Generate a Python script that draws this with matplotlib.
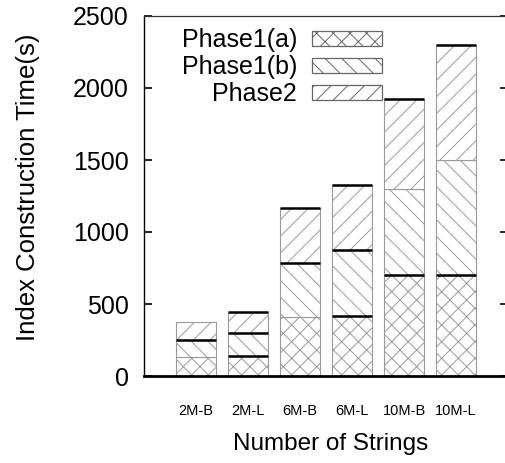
import numpy as np
import matplotlib
matplotlib.use("Agg")
import matplotlib.pyplot as plt
from matplotlib.patches import Patch

# index build time per dataset, split by phase (seconds)
datasets = ["2M-B", "2M-L", "6M-B", "6M-L", "10M-B", "10M-L"]
phase1a = [135, 140, 412, 420, 698, 698]
phase1b = [115, 157, 370, 452, 602, 799]
phase2 = [126, 145, 386, 453, 627, 803]
series_names = ["Phase1(a)", "Phase1(b)", "Phase2"]
yticks = [0, 500, 1000, 1500, 2000, 2500]

# which segment tops get a heavy black rule
bold_tops = [
    [False, True, False, True, True, True],
    [True, True, True, True, False, False],
    [False, True, True, True, True, True],
]

plt.rcParams["font.family"] = ["Liberation Sans", "DejaVu Sans"]
plt.rcParams["hatch.linewidth"] = 0.7

fig = plt.figure(figsize=(5.05, 4.63), dpi=100)
W, H = 505, 463
ax = fig.add_axes([144 / W, (H - 376) / H, (508 - 144) / W, (376 - 16) / H])

x = np.arange(len(datasets))
width = 0.77
hatches = ["xx", "\\\\", "//"]
edge = "#9a9a9a"

bottom = np.zeros(len(datasets))
for vals, hatch, bolds in zip([phase1a, phase1b, phase2], hatches, bold_tops):
    vals = np.array(vals, dtype=float)
    ax.bar(x, vals, width, bottom=bottom, color="white", edgecolor=edge,
           hatch=hatch, linewidth=0.8, zorder=2)
    tops = bottom + vals
    for xi, top, b in zip(x, tops, bolds):
        if b:
            ax.hlines(top, xi - width / 2, xi + width / 2, color="black",
                      linewidth=1.8, zorder=3)
    bottom = tops

ax.set_xlim(-1, len(datasets))
ax.set_ylim(0, 2500)
ax.set_yticks(yticks)
ax.set_xticks(x)
ax.set_xticklabels(datasets, fontsize=10.5)
ax.tick_params(axis="x", length=0, pad=20)
ax.tick_params(axis="y", direction="in", length=6, width=1.2, pad=11,
               labelsize=18, right=True)

ax.spines["left"].set_linewidth(1.0)
ax.spines["top"].set_linewidth(0.9)
ax.spines["top"].set_color("#333333")
ax.spines["bottom"].set_linewidth(2.0)
ax.spines["right"].set_linewidth(1.0)

ax.set_ylabel("Index Construction Time(s)", fontsize=18.5)
ax.yaxis.set_label_coords(-0.285, 0.524)
ax.set_xlabel("Number of Strings", fontsize=17.5)
ax.xaxis.set_label_coords(0.514, -0.158)

handles = [Patch(facecolor="white", edgecolor="#666666", hatch=h, linewidth=0.9)
           for h in hatches]
ax.legend(handles, series_names, loc="upper right",
          bbox_to_anchor=(382 / W, 1 - 28 / H), bbox_transform=fig.transFigure,
          frameon=False, markerfirst=False, fontsize=18, handlelength=2.8,
          handleheight=0.56, handletextpad=0.6, labelspacing=0.12,
          borderpad=0, borderaxespad=0)

fig.savefig("out.png", dpi=100)
